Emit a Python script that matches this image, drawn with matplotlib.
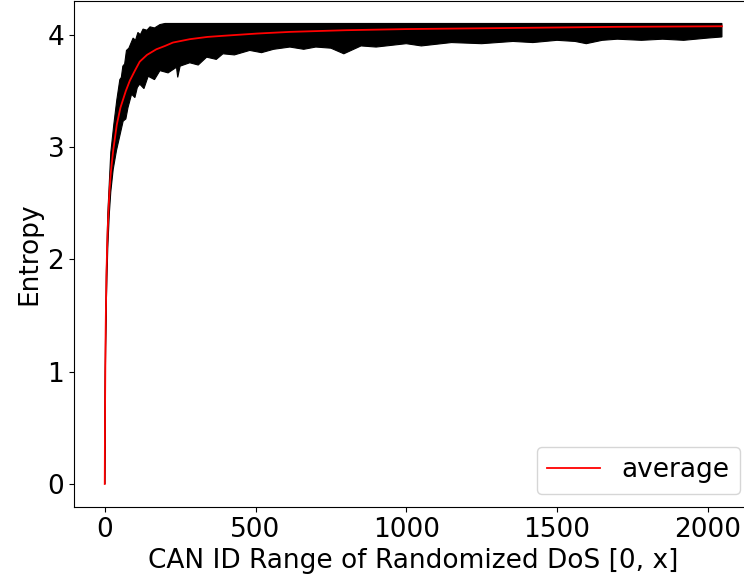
import matplotlib.pyplot as plt

# values
avg_x = [0, 1, 2, 3, 4, 6, 8, 10, 13, 16, 20, 28, 40, 52, 70, 83, 100, 116,
         140, 171, 200, 226, 282, 340, 392, 504, 614, 800, 1000, 1354, 1700, 2047]
avg_y = [0.0, 0.69, 1.09, 1.37, 1.58, 1.9, 2.12, 2.28, 2.47, 2.62, 2.77, 2.97,
         3.2, 3.35, 3.5, 3.59, 3.68, 3.76, 3.82, 3.87, 3.9, 3.93, 3.96, 3.98,
         3.99, 4.01, 4.025, 4.04, 4.05, 4.06, 4.07, 4.075]

up_x = [0, 2, 5, 10, 20, 30, 40, 50, 55, 60, 66, 72, 80, 94, 102, 110, 118,
        127, 140, 150, 165, 183, 200, 260, 400, 800, 1200, 1600, 2047]
up_y = [0.0, 1.15, 1.85, 2.4, 2.95, 3.2, 3.42, 3.6, 3.62, 3.72, 3.74, 3.86,
        3.88, 3.97, 3.95, 4.02, 4.0, 4.05, 4.04, 4.07, 4.06, 4.09, 4.1,
        4.1, 4.1, 4.1, 4.1, 4.1, 4.1]

low_x = [0, 2, 5, 10, 15, 20, 28, 39, 50, 61, 70, 77, 89, 100, 108, 116, 130,
         144, 165, 183, 210, 238, 242, 250, 282, 310, 338, 370, 392, 430, 481,
         520, 560, 614, 660, 700, 750, 793, 850, 900, 1000, 1050, 1150, 1250,
         1354, 1420, 1500, 1560, 1597, 1650, 1700, 1780, 1850, 1920, 2000, 2047]
low_y = [0.0, 1.0, 1.6, 2.1, 2.4, 2.6, 2.8, 2.97, 3.1, 3.23, 3.25, 3.35,
         3.47, 3.44, 3.53, 3.56, 3.52, 3.63, 3.6, 3.68, 3.66, 3.71, 3.62,
         3.72, 3.75, 3.73, 3.8, 3.78, 3.83, 3.82, 3.86, 3.84, 3.87, 3.89,
         3.87, 3.89, 3.88, 3.83, 3.9, 3.89, 3.92, 3.9, 3.93, 3.92, 3.94,
         3.93, 3.95, 3.94, 3.92, 3.95, 3.96, 3.95, 3.96, 3.95, 3.97, 3.98]

plt.rcParams['font.size'] = 19

fig = plt.figure(figsize=(7.44, 5.81), dpi=100)
ax = fig.add_axes([74 / 744, 74 / 581, 679 / 744, 506 / 581])

# band of raw samples: upper envelope out, lower envelope back
ax.fill(up_x + low_x[::-1], up_y + low_y[::-1], color='black', lw=0.8)
ax.plot(avg_x, avg_y, color='red', lw=1.3, label='average')

ax.set_xlim(-102, 2150)
ax.set_ylim(-0.205, 4.3)
ax.set_yticks([0, 1, 2, 3, 4])
ax.set_xticks([0, 500, 1000, 1500, 2000])
ax.set_xlabel('CAN ID Range of Randomized DoS [0, x]')
ax.set_ylabel('Entropy')
ax.legend(loc='lower right')

fig.savefig('out.png', dpi=100)
